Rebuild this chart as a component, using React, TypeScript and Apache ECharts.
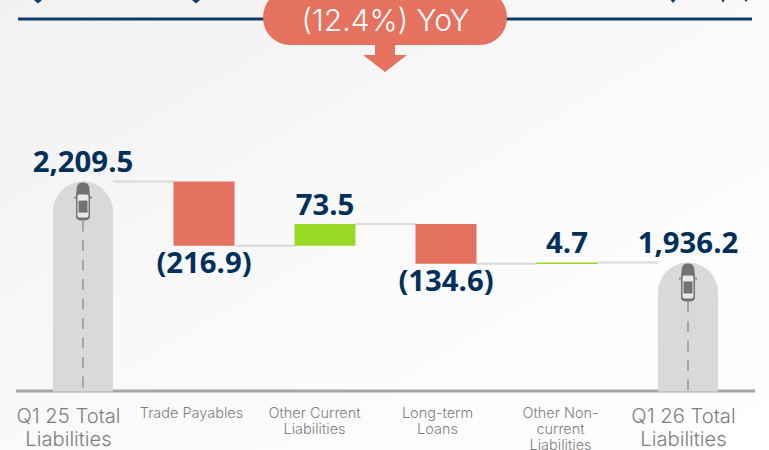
import React, { useEffect, useRef } from "react";
import * as echarts from "echarts";

const categories = ["Q1 25 Total\nLiabilities", "Trade Payables", "Other Current\nLiabilities", "Long-term\nLoans", "Other Non-\ncurrent\nLiabilities", "Q1 26 Total\nLiabilities"];
const deltas = [2209.5, -216.9, 73.5, -134.6, 4.7, 1936.2];
const valueLabels = ["2,209.5", "(216.9)", "73.5", "(134.6)", "4.7", "1,936.2"];
const headline = "(12.4%) YoY";

const NAVY = "#00305a";
const RED = "#e5725f";
const GREEN = "#97d924";
const ROAD = "#d9d9d9";
const GREY = "#7f7f7f";
const CAR = "#727272";
const FLOOR = 1500;

const carBody = "M9 0C5 0 3 2 2.6 6L2 14L0 14.6L0 16L2 15.6L2 34C2 36.5 4 38 9 38C14 38 16 36.5 16 34L16 15.6L18 16L18 14.6L16 14L15.4 6C15 2 13 0 9 0Z";

// running levels of the waterfall
const levels: [number, number][] = [];
let running = 0;
deltas.forEach((d, i) => {
  if (i === 0 || i === deltas.length - 1) {
    levels.push([FLOOR, d]);
    running = d;
  } else {
    levels.push([running, running + d]);
    running += d;
  }
});

const tip = (x: number, w: number, h: number) => ({
  type: "polygon",
  shape: { points: [[x - w, 0], [x + w, 0], [x, h]] },
  style: { fill: "#0c3b66" },
});

export default function App() {
  const ref = useRef<HTMLDivElement>(null);
  useEffect(() => {
    const chart = echarts.init(ref.current!, undefined, { renderer: "svg" });
    const total = (i: number) => i === 0 || i === deltas.length - 1;
    chart.setOption({
      animation: false,
      backgroundColor: new echarts.graphic.LinearGradient(0, 0, 1, 1, [
        { offset: 0, color: "#f1f1f1" },
        { offset: 0.6, color: "#fbfbfb" },
        { offset: 1, color: "#ffffff" },
      ]),
      grid: [
        { left: 22.5, width: 726, top: 91.5, height: 300 },
        { left: 7, width: 738, top: 391, height: 1 },
      ],
      xAxis: [
        { type: "category", gridIndex: 0, data: categories, show: false },
        {
          type: "category",
          gridIndex: 1,
          data: categories.map((c, i) => ({
            value: c,
            textStyle: total(i) ? { fontSize: 20.2, lineHeight: 23 } : { fontSize: 14.5, lineHeight: 16 },
          })),
          axisTick: { show: false },
          axisLine: { show: false },
          axisLabel: { interval: 0, margin: 13, color: GREY, fontFamily: "Inter", fontWeight: 300, verticalAlign: "top", hideOverlap: false },
        },
      ],
      yAxis: [
        { type: "value", gridIndex: 0, min: FLOOR, max: 2514, show: false, splitLine: { show: false } },
        { type: "value", gridIndex: 1, min: 0, max: 1, show: false, splitLine: { show: false } },
      ],
      series: [
        {
          type: "custom",
          name: "connectors",
          z: 1,
          silent: true,
          data: levels.slice(0, -1).map((l, i) => [i, l[1]]),
          renderItem: (_: any, api: any) => {
            const i = api.value(0);
            const [cx, y] = api.coord([i, api.value(1)]);
            const half = api.size([1, 0])[0] / 2;
            return { type: "line", shape: { x1: cx + 30, y1: y, x2: cx + 2 * half - 30, y2: y }, style: { stroke: ROAD, lineWidth: 2 } };
          },
        },
        {
          type: "custom",
          name: "bars",
          z: 2,
          data: levels.map((l, i) => [i, l[0], l[1]]),
          renderItem: (_: any, api: any) => {
            const i = api.value(0);
            const from = api.coord([i, api.value(1)]);
            const to = api.coord([i, api.value(2)]);
            const up = api.value(2) > api.value(1);
            const top = Math.min(from[1], to[1]);
            const h = Math.max(Math.abs(from[1] - to[1]), 1.5);
            if (total(i)) {
              const cx = from[0];
              return {
                type: "group",
                children: [
                  { type: "rect", shape: { x: cx - 30, y: top, width: 60, height: h, r: [30, 30, 0, 0] }, style: { fill: ROAD } },
                  { type: "line", shape: { x1: cx, y1: top + 39, x2: cx, y2: from[1] }, style: { stroke: "#a6a6a6", lineWidth: 2, lineDash: [11, 8.5] } },
                  { type: "path", shape: { pathData: carBody, x: cx - 9, y: top + 1, width: 18, height: 38, layout: "cover" }, style: { fill: CAR } },
                  { type: "rect", shape: { x: cx - 5.5, y: top + 13, width: 11, height: 23, r: 2 }, style: { fill: "#e8e8e8" } },
                  { type: "rect", shape: { x: cx - 4.5, y: top + 19, width: 9, height: 12 }, style: { fill: CAR } },
                ],
              };
            }
            return { type: "rect", shape: { x: from[0] - 30.5, y: top, width: 61, height: h }, style: { fill: up ? GREEN : RED } };
          },
          encode: { x: 0, y: 2 },
        },
        {
          type: "custom",
          name: "labels",
          z: 3,
          data: levels.map((l, i) => [i, l[0], l[1]]),
          renderItem: (_: any, api: any) => {
            const i = api.value(0);
            const up = api.value(2) > api.value(1);
            const top = api.coord([i, Math.max(api.value(1), api.value(2))]);
            const bottom = api.coord([i, Math.min(api.value(1), api.value(2))]);
            const y = up ? top[1] - 20.5 : bottom[1] + 16;
            return {
              type: "text",
              x: top[0],
              y,
              style: { text: valueLabels[i], fill: NAVY, font: "700 29.3px 'Open Sans'", align: "center", verticalAlign: "middle" },
            };
          },
        },
      ],
      graphic: [
        tip(38, 4, 3.5),
        tip(196, 4, 3.5),
        tip(673, 2.5, 3),
        tip(723, 1.5, 3),
        tip(746, 1.5, 2),
        { type: "line", shape: { x1: 18, y1: 19, x2: 752, y2: 19 }, style: { stroke: "#0c3b66", lineWidth: 3 } },
        { type: "line", shape: { x1: 16, y1: 391, x2: 755, y2: 391 }, style: { stroke: "#a6a6a6", lineWidth: 3 } },
        { type: "polygon", shape: { points: [[375, 44], [395, 44], [395, 55], [407, 55], [385, 72], [363, 55], [375, 55]] }, style: { fill: RED } },
        { type: "rect", shape: { x: 263, y: -10, width: 244, height: 55, r: 27 }, style: { fill: RED } },
        { type: "text", x: 385.5, y: 20, style: { text: headline, fill: "#ffffff", font: "300 30px Inter", align: "center", verticalAlign: "middle" } },
      ],
    });
    return () => chart.dispose();
  }, []);
  return <div ref={ref} style={{ position: "fixed", left: 0, top: 0, width: 769, height: 450 }} />;
}
